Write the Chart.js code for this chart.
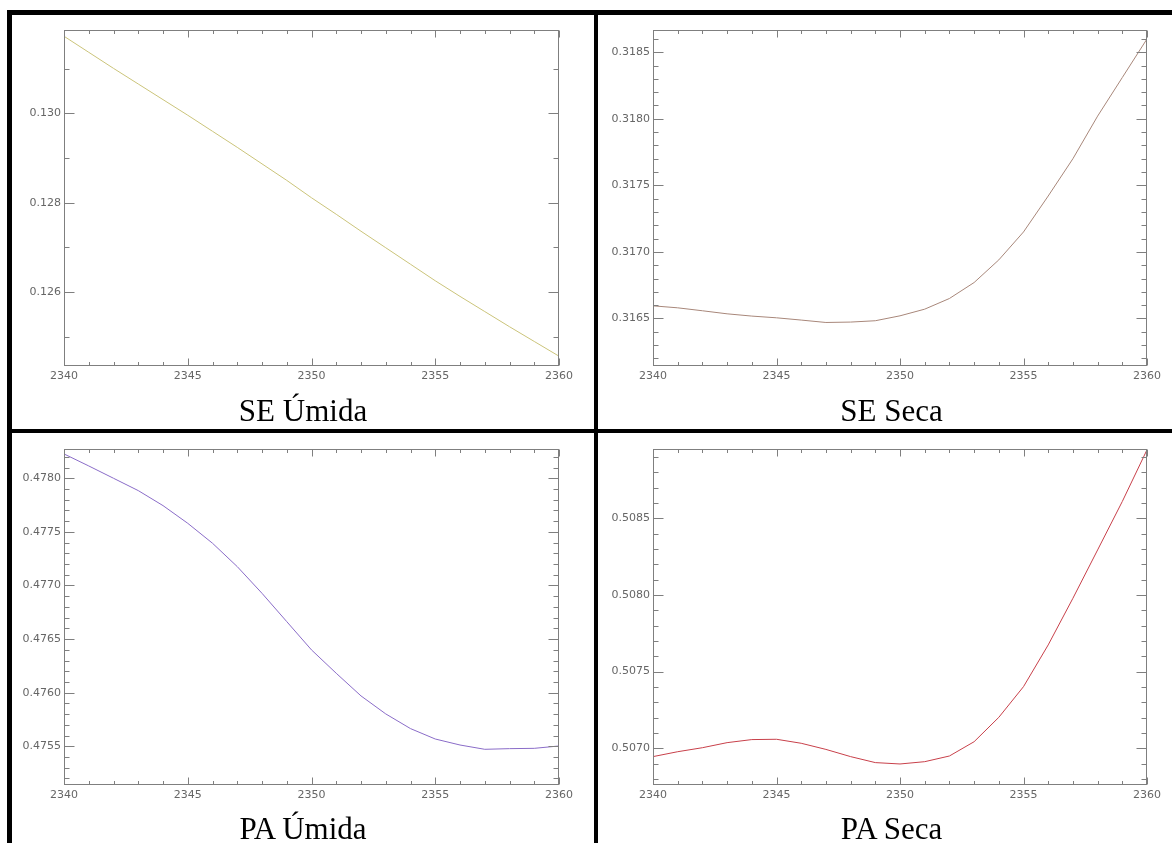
<!DOCTYPE html>
<html>
<head>
<meta charset="utf-8">
<script src="https://cdn.jsdelivr.net/npm/chart.js@4.4.1/dist/chart.umd.min.js"></script>
<style>
  body { margin: 0; background: #fff; width: 1172px; height: 843px; overflow: hidden; position: relative; }
  .line { position: absolute; background: #000; }
  .panel { position: absolute; }
  .caption {
    position: absolute; text-align: center;
    font-family: 'Liberation Serif', 'Times New Roman', serif;
    font-size: 31px; line-height: 31px; color: #000;
  }
</style>
</head>
<body>
<div class="line" style="left:7px; top:10px; width:1180px; height:5px"></div>
<div class="line" style="left:7px; top:10px; width:5px; height:840px"></div>
<div class="line" style="left:594px; top:10px; width:4px; height:840px"></div>
<div class="line" style="left:7px; top:429px; width:1180px; height:4px"></div>

<canvas class="panel" id="c1" width="582" height="380" style="left:12px; top:15px"></canvas>
<canvas class="panel" id="c2" width="574" height="380" style="left:598px; top:15px"></canvas>
<canvas class="panel" id="c3" width="582" height="380" style="left:12px; top:433px"></canvas>
<canvas class="panel" id="c4" width="574" height="380" style="left:598px; top:433px"></canvas>

<div class="caption" style="left:12px; width:582px; top:395px">SE Úmida</div>
<div class="caption" style="left:598px; width:587px; top:395px">SE Seca</div>
<div class="caption" style="left:12px; width:582px; top:813px">PA Úmida</div>
<div class="caption" style="left:598px; width:587px; top:813px">PA Seca</div>

<script>
const wavelength = [2340, 2341, 2342, 2343, 2344, 2345, 2346, 2347, 2348, 2349, 2350,
                    2351, 2352, 2353, 2354, 2355, 2356, 2357, 2358, 2359, 2360];

const seUmida = [0.13173, 0.13137, 0.13101, 0.13066, 0.13031, 0.12996, 0.12960, 0.12924,
                 0.12887, 0.12850, 0.12811, 0.12774, 0.12736, 0.12699, 0.12662, 0.12625,
                 0.12590, 0.12556, 0.12522, 0.12489, 0.12456];

const seSeca = [0.316595, 0.316580, 0.316558, 0.316535, 0.316518, 0.316505, 0.316488,
                0.316470, 0.316473, 0.316483, 0.316520, 0.316570, 0.316650, 0.316770,
                0.316940, 0.317150, 0.317420, 0.317700, 0.318020, 0.318310, 0.318600];

const paUmida = [0.478227, 0.478115, 0.478000, 0.477885, 0.477745, 0.477580, 0.477394,
                 0.477176, 0.476927, 0.476663, 0.476399, 0.476181, 0.475970, 0.475802,
                 0.475665, 0.475568, 0.475512, 0.475472, 0.475478, 0.475481, 0.475503];

const paSeca = [0.506946, 0.506978, 0.507004, 0.507037, 0.507057, 0.507059, 0.507033,
                0.506993, 0.506946, 0.506907, 0.506898, 0.506913, 0.506950, 0.507043,
                0.507202, 0.507402, 0.507674, 0.507978, 0.508293, 0.508609, 0.508946];

// y ranges
const seUmidaRange = [0.12434, 0.13187];
const seSecaRange = [0.316143, 0.318667];
const paUmidaRange = [0.475139, 0.478273];
const paSecaRange = [0.506761, 0.508951];

const axisGray = '#7f7f7f';

// IDL-style frame with inward ticks on all four sides
const innerTicks = {
  id: 'innerTicks',
  afterDatasetsDraw(chart, args, opts) {
    const { ctx, chartArea: a, scales: { x, y } } = chart;
    const L = Math.round(a.left) + 0.5, R = Math.round(a.right) - 0.5;
    const T = Math.round(a.top) + 0.5, B = Math.round(a.bottom) - 0.5;
    ctx.save();
    ctx.strokeStyle = axisGray;
    ctx.lineWidth = 1;
    ctx.strokeRect(L, T, R - L, B - T);
    ctx.beginPath();
    for (let v = x.min; v <= x.max; v++) {
      const px = Math.round(x.getPixelForValue(v)) + 0.5;
      const len = v % 5 === 0 ? 7 : 3.5;
      ctx.moveTo(px, B); ctx.lineTo(px, B - len);
      ctx.moveTo(px, T); ctx.lineTo(px, T + len);
    }
    const k0 = Math.ceil(y.min / opts.minor - 1e-6);
    const k1 = Math.floor(y.max / opts.minor + 1e-6);
    for (let k = k0; k <= k1; k++) {
      const py = Math.round(y.getPixelForValue(k * opts.minor)) + 0.5;
      const len = k % opts.every === 0 ? 10 : 5;
      ctx.moveTo(L, py); ctx.lineTo(L + len, py);
      ctx.moveTo(R, py); ctx.lineTo(R - len, py);
    }
    ctx.stroke();
    ctx.restore();
  }
};

function makeChart(id, values, color, range, major, minor, decimals, yWidth, padTop, padRight) {
  const ctx = document.getElementById(id).getContext('2d');
  return new Chart(ctx, {
    type: 'line',
    data: {
      datasets: [{
        data: wavelength.map((w, i) => ({ x: w, y: values[i] })),
        borderColor: color,
        borderWidth: 1,
        pointRadius: 0,
        tension: 0,
        fill: false,
      }],
    },
    options: {
      responsive: false,
      animation: false,
      devicePixelRatio: 1,
      layout: { padding: { top: padTop, right: padRight, left: 0, bottom: 0 } },
      plugins: {
        legend: { display: false },
        tooltip: { enabled: false },
        innerTicks: { minor: minor, every: Math.round(major / minor) },
      },
      scales: {
        x: {
          type: 'linear',
          min: 2340,
          max: 2360,
          grid: { display: false, drawTicks: false },
          border: { display: false },
          ticks: {
            stepSize: 5,
            padding: 4,
            maxRotation: 0,
            autoSkip: false,
            color: '#666',
            font: { family: 'DejaVu Sans', size: 11 },
            callback: v => String(v),
          },
          afterFit: s => { s.height = 380 - padTop - 336; s.paddingLeft = 0; s.paddingRight = 0; },
        },
        y: {
          min: range[0],
          max: range[1],
          grid: { display: false, drawTicks: false },
          border: { display: false },
          ticks: {
            stepSize: major,
            includeBounds: false,
            padding: 3,
            color: '#666',
            font: { family: 'DejaVu Sans', size: 11 },
            callback: v => Number(v).toFixed(decimals),
          },
          afterFit: s => { s.width = yWidth; s.paddingTop = 0; s.paddingBottom = 0; },
        },
      },
    },
    plugins: [innerTicks],
  });
}

makeChart('c1', seUmida, '#cbc47a', seUmidaRange, 0.002, 0.001, 3, 52, 15, 35);
makeChart('c2', seSeca, '#a8877a', seSecaRange, 0.0005, 0.0001, 4, 55, 15, 25);
makeChart('c3', paUmida, '#8a6cc8', paUmidaRange, 0.0005, 0.0001, 4, 52, 16, 35);
makeChart('c4', paSeca, '#c8404a', paSecaRange, 0.0005, 0.0001, 4, 55, 16, 25);
</script>
</body>
</html>
